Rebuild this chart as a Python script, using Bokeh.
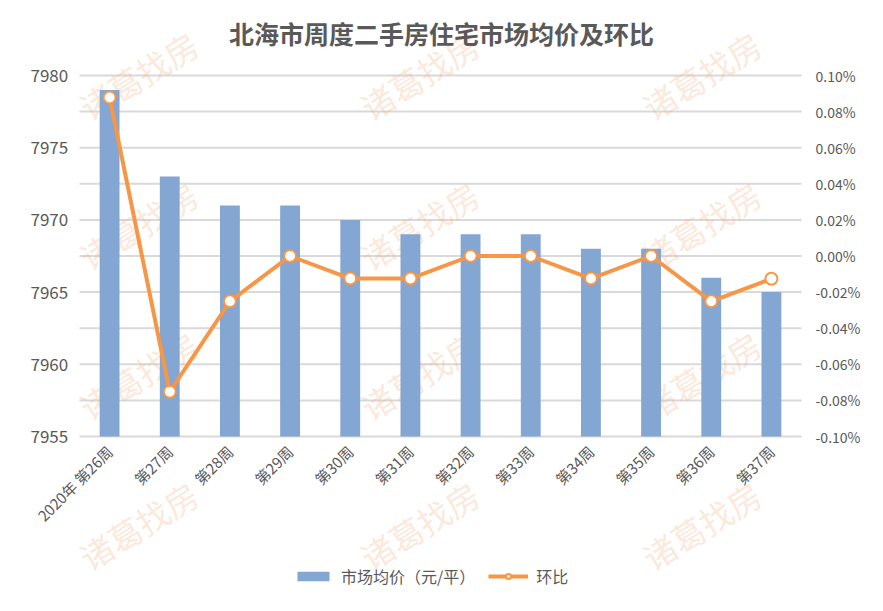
import math
from bokeh.plotting import figure
from bokeh.models import (Range1d, LinearAxis, FixedTicker, NumeralTickFormatter,
                          Label, Legend, LegendItem, FactorRange, ColumnDataSource)
from bokeh.embed import file_html
from bokeh.resources import INLINE

# ---- data ----
weeks = ["2020年 第26周", "第27周", "第28周", "第29周", "第30周", "第31周",
         "第32周", "第33周", "第34周", "第35周", "第36周", "第37周"]
price = [7979, 7973, 7971, 7971, 7970, 7969, 7969, 7969, 7968, 7968, 7966, 7965]
mom = [0.000878, -0.000752, -0.000251, 0.0, -0.000125, -0.000125,
       0.0, 0.0, -0.000125, 0.0, -0.000251, -0.000126]
left_ticks = [7955, 7960, 7965, 7970, 7975, 7980]
pct_ticks = [-0.001, -0.0008, -0.0006, -0.0004, -0.0002, 0.0,
             0.0002, 0.0004, 0.0006, 0.0008, 0.001]
title_text = "北海市周度二手房住宅市场均价及环比"
bar_name = "市场均价（元/平）"
line_name = "环比"
watermark = "诸葛找房"

FONT = "Noto Sans CJK SC"
TXT = "#595959"

# ---- layout (pixels) ----
FRAME_H = 595                  # frame spans the whole canvas height
AX_TOP, AX_BOT = 75, 436       # vertical extent of the value axes
AX_L, AX_R = 79, 801           # horizontal extent of the category axis
LEFT_LABEL_X = 30              # left edge of the left value labels
n = len(weeks)
cat_px = (AX_R - AX_L) / n
PAD = AX_L / cat_px            # equal padding left and right (in categories)
FRAME_W = int(round(AX_R - AX_L + 2 * AX_L))

lo, hi = left_ticks[0], left_ticks[-1]
per_px = (hi - lo) / (AX_BOT - AX_TOP)
y_lo = lo - (FRAME_H - AX_BOT) * per_px
y_hi = hi + AX_TOP * per_px
plo, phi = pct_ticks[0], pct_ticks[-1]
pper_px = (phi - plo) / (AX_BOT - AX_TOP)
p_lo = plo - (FRAME_H - AX_BOT) * pper_px
p_hi = phi + AX_TOP * pper_px

src = ColumnDataSource(dict(week=weeks, price=price, mom=mom))

p = figure(frame_width=FRAME_W, frame_height=FRAME_H,
           x_range=FactorRange(*weeks, range_padding=PAD,
                               range_padding_units="absolute"),
           y_range=Range1d(y_lo, y_hi), y_axis_location=None,
           output_backend="svg", toolbar_location=None, tools="",
           min_border_left=0, min_border_right=0,
           min_border_top=0, min_border_bottom=0)
p.outline_line_color = None
p.background_fill_color = "white"
p.border_fill_color = "white"
p.grid.grid_line_color = None

p.extra_y_ranges = {"pct": Range1d(p_lo, p_hi)}

# horizontal grid lines at right-axis ticks (every 2.5 on left scale),
# spanning only the category axis
grid_vals = [lo + (hi - lo) * i / (len(pct_ticks) - 1) for i in range(len(pct_ticks))]
p.segment(x0=0, x1=n, y0=grid_vals, y1=grid_vals, line_color="#d9d9d9",
          line_width=2, level="underlay")

# watermarks (behind), positions relative to plot frame (bottom-up)
wm_x = [138, 419, 701]
wm_y = [520, 370, 220, 70]
for wx in wm_x:
    for wy in wm_y:
        p.add_layout(Label(x=wx, y=wy, x_units="screen", y_units="screen",
                           text=watermark, angle=math.radians(32),
                           text_align="center", text_baseline="middle",
                           text_font=FONT, text_font_size="33px",
                           text_color="#F4B183", text_alpha=0.3,
                           level="underlay"))

bars = p.vbar(x="week", top="price", bottom=lo, width=0.33,
              source=src, fill_color="#83A6D2", line_color=None)
ln = p.line(x="week", y="mom", source=src, y_range_name="pct",
            line_color="#F79646", line_width=4)
pts = p.scatter(x="week", y="mom", source=src, y_range_name="pct",
                size=12, fill_color="white", line_color="#F79646",
                line_width=2)


def style(ax, size):
    ax.axis_line_color = None
    ax.major_tick_line_color = None
    ax.minor_tick_line_color = None
    ax.major_tick_out = 0
    ax.major_tick_in = 0
    ax.minor_tick_out = 0
    ax.minor_tick_in = 0
    ax.major_label_text_color = TXT
    ax.major_label_text_font = FONT
    ax.major_label_text_font_size = size


# category axis drawn at the bottom of the value axes
xa = p.xaxis[0]
style(xa, "15px")
xa.major_label_orientation = math.pi / 4
xa.major_label_standoff = 12
xa.fixed_location = lo

# left value axis (drawn at a fixed position left of the bars)
la = LinearAxis(ticker=FixedTicker(ticks=left_ticks),
                fixed_location=(LEFT_LABEL_X - AX_L) / cat_px)
style(la, "17px")
la.major_label_standoff = 0
p.add_layout(la, "right")

# right percentage axis
ra = LinearAxis(y_range_name="pct", ticker=FixedTicker(ticks=pct_ticks),
                formatter=NumeralTickFormatter(format="0.00%"),
                fixed_location=n)
style(ra, "14px")
ra.major_label_standoff = 14
p.add_layout(ra, "right")

# title (inside the full-height frame)
p.add_layout(Label(x=441, y=FRAME_H - 32, x_units="screen", y_units="screen",
                   text=title_text, text_align="center", text_baseline="middle",
                   text_font=FONT, text_font_size="25px", text_font_style="bold",
                   text_color=TXT))

legend = Legend(items=[LegendItem(label=bar_name, renderers=[bars]),
                       LegendItem(label=line_name, renderers=[ln, pts])],
                orientation="horizontal", location=(293, 7),
                border_line_color=None, background_fill_alpha=0,
                label_text_font=FONT, label_text_font_size="16px",
                label_text_color=TXT, glyph_width=40, glyph_height=12,
                spacing=13, label_standoff=8, padding=0, margin=0)
p.add_layout(legend, "center")

open("out.html", "w").write(file_html(p, INLINE))
